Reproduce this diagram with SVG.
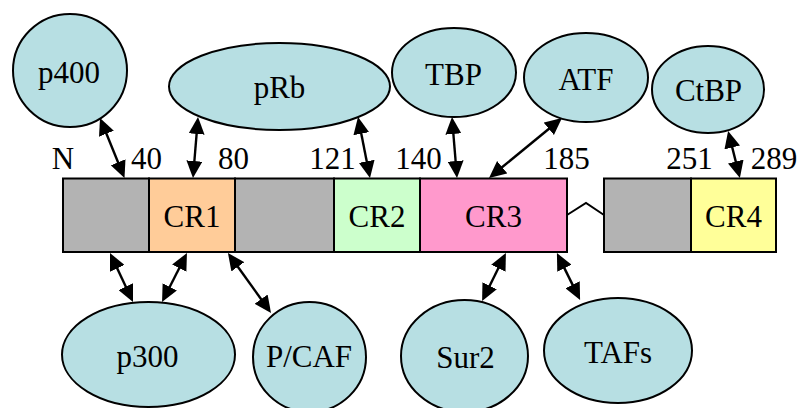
<svg xmlns="http://www.w3.org/2000/svg" width="800" height="408" viewBox="0 0 800 408">
<style>
  text { font-family: "Liberation Serif", "Times New Roman", serif; font-size: 31px; fill: #000; text-anchor: middle; }
  .node ellipse { fill: #b7dfe3; stroke: #000; stroke-width: 2; }
  .seg { stroke: #000; stroke-width: 2; }
  .conn path { fill: none; stroke: #000; stroke-width: 2.4; marker-start: url(#ah); marker-end: url(#ah); }
</style>
<defs>
  <marker id="ah" viewBox="0 -8 17 16" markerWidth="17" markerHeight="16" refX="1" refY="0" markerUnits="userSpaceOnUse" orient="auto-start-reverse">
    <path d="M0,-8 L17,0 L0,8 z" fill="#000"/>
  </marker>
</defs>
<rect width="800" height="408" fill="#fff"/>

<g id="protein">
  <rect class="seg" x="63" y="178.5" width="86" height="73.5" fill="#b3b3b3"/>
  <rect class="seg" x="149" y="178.5" width="86" height="73.5" fill="#ffcc99"/>
  <rect class="seg" x="235" y="178.5" width="99" height="73.5" fill="#b3b3b3"/>
  <rect class="seg" x="334" y="178.5" width="86" height="73.5" fill="#ccffcc"/>
  <rect class="seg" x="420" y="178.5" width="147" height="73.5" fill="#ff99cc"/>
  <rect class="seg" x="604" y="178.5" width="87" height="73.5" fill="#b3b3b3"/>
  <rect class="seg" x="691" y="178.5" width="85" height="73.5" fill="#ffff99"/>
  <polyline points="567,215 586,203 604,215" fill="none" stroke="#000" stroke-width="2"/>
  <text x="192" y="227">CR1</text>
  <text x="377" y="227">CR2</text>
  <text x="493.5" y="227">CR3</text>
  <text x="733.5" y="227">CR4</text>
  <text x="63" y="169">N</text>
  <text x="146.5" y="169">40</text>
  <text x="233.5" y="169">80</text>
  <text x="332.5" y="169">121</text>
  <text x="418.5" y="169">140</text>
  <text x="566.5" y="169">185</text>
  <text x="689.5" y="169">251</text>
  <text x="774" y="169">289</text>
</g>

<g id="p400" class="node"><ellipse cx="70" cy="70.5" rx="57" ry="56.5"/><text x="69" y="83">p400</text></g>
<g id="pRb" class="node"><ellipse cx="279.5" cy="86.5" rx="110.5" ry="43.5"/><text x="279.5" y="98">pRb</text></g>
<g id="TBP" class="node"><ellipse cx="454" cy="72.5" rx="62" ry="44.5"/><text x="453.5" y="85">TBP</text></g>
<g id="ATF" class="node"><ellipse cx="586" cy="77.5" rx="62" ry="44.5"/><text x="586" y="90">ATF</text></g>
<g id="CtBP" class="node"><ellipse cx="708" cy="89.5" rx="56" ry="43.5"/><text x="708.5" y="101">CtBP</text></g>
<g id="p300" class="node"><ellipse cx="148.5" cy="354.5" rx="86.5" ry="52.5"/><text x="147.5" y="367">p300</text></g>
<g id="PCAF" class="node"><ellipse cx="309.5" cy="357" rx="56.5" ry="55"/><text x="309" y="367">P/CAF</text></g>
<g id="Sur2" class="node"><ellipse cx="464.5" cy="356" rx="63.5" ry="56"/><text x="465.5" y="367.5">Sur2</text></g>
<g id="TAFs" class="node"><ellipse cx="618" cy="350.5" rx="74" ry="52.5"/><text x="618" y="363">TAFs</text></g>

<g id="connectors" class="conn">
  <path d="M106.05,132.8 L118.45,163.2"/>
  <path d="M196.7,133 L194.3,162"/>
  <path d="M361.1,132.7 L366.9,162.3"/>
  <path d="M453.3,133 L455.7,162"/>
  <path d="M549.6,128.2 L501.4,167.8"/>
  <path d="M732,146.5 L736,162.5"/>
  <path d="M116.8,267.5 L126.2,287.5"/>
  <path d="M179.7,267.3 L169.3,287.7"/>
  <path d="M237.3,266 L261.7,300"/>
  <path d="M498.8,267.3 L489.2,286.7"/>
  <path d="M564,267.4 L573,285.6"/>
</g>
</svg>
